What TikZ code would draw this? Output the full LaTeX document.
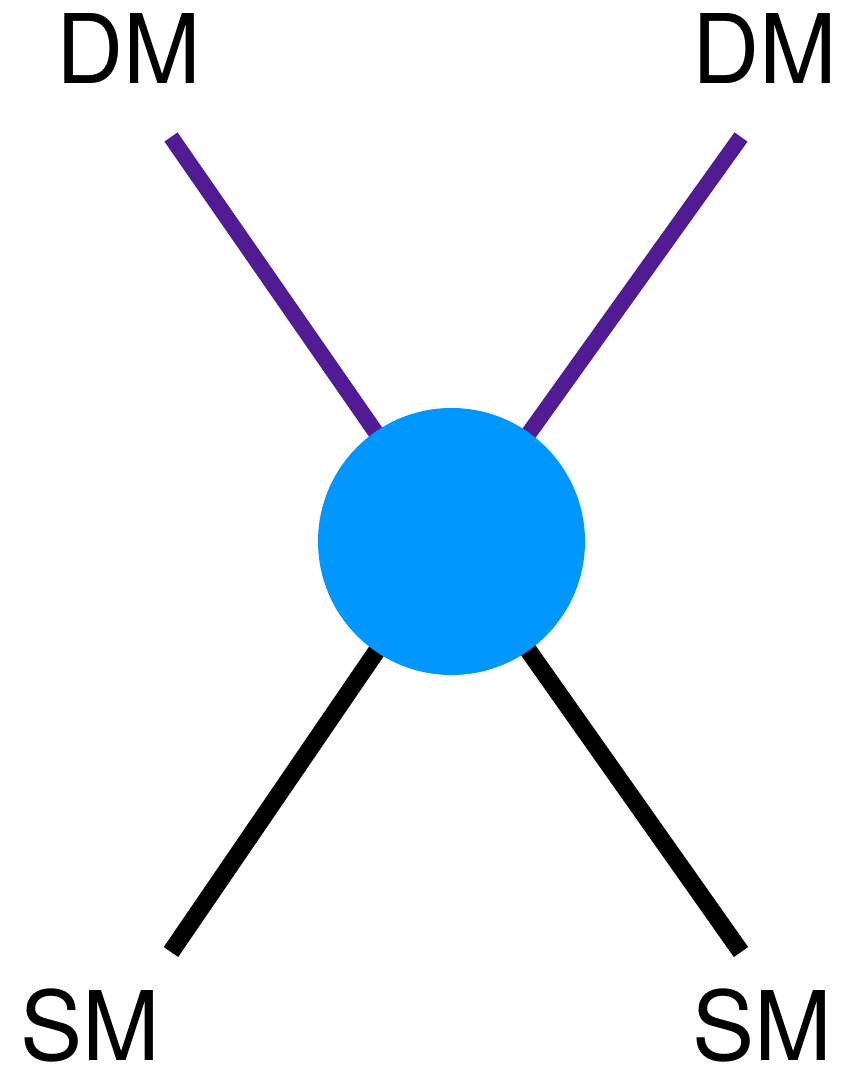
\documentclass[tikz,border=0pt]{standalone}
\usepackage{fontspec}
\setmainfont{TeX Gyre Heros}
\definecolor{dmpurple}{RGB}{81,27,148}
\definecolor{blob}{RGB}{0,150,255}
\begin{document}
\begin{tikzpicture}[x=1pt,y=-1pt,
  lbl/.style={inner sep=0pt,anchor=base,font=\fontsize{96}{100}\selectfont},
  dmline/.style={draw=dmpurple,line width=16pt},
  smline/.style={draw=black,line width=17.5pt},
  vertex/.style={circle,fill=blob,minimum size=267pt,inner sep=0pt}]
\useasboundingbox (0,0) rectangle (844,1067);
\coordinate (o) at (451.5,541.5);
\coordinate (a) at (171,137);
\coordinate (b) at (741,137);
\coordinate (c) at (171,952);
\coordinate (d) at (741,952);
\draw[dmline] (a) -- (o);
\draw[dmline] (b) -- (o);
\draw[smline] (c) -- (o);
\draw[smline] (d) -- (o);
\node[vertex] (v) at (o) {};
\node[lbl] (dm1) at (129,84) {\scalebox{0.97}[1]{DM}};
\node[lbl] (dm2) at (764.5,84) {\scalebox{0.97}[1]{DM}};
\node[lbl] (sm1) at (90.5,1060) {\scalebox{0.97}[1]{SM}};
\node[lbl] (sm2) at (762.5,1060) {\scalebox{0.97}[1]{SM}};
\end{tikzpicture}
\end{document}
